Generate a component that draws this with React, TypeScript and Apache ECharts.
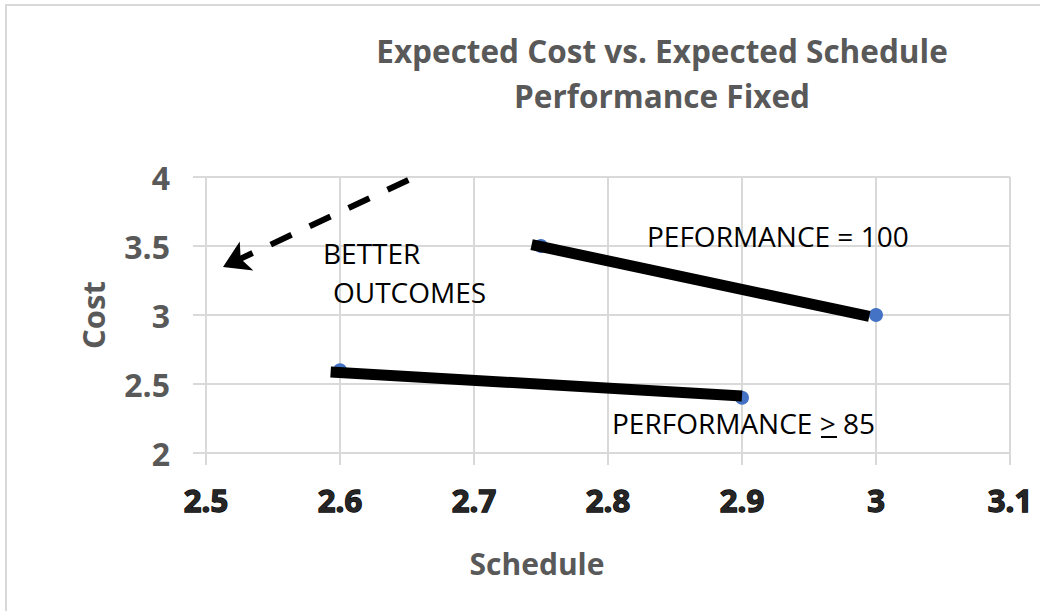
import React, { useEffect, useRef } from "react";
import * as echarts from "echarts";

const TITLE_LINES = ["Expected Cost vs. Expected Schedule", "Performance Fixed"];
const X_NAME = "Schedule";
const Y_NAME = "Cost";

// scatter points (schedule, cost)
const perf100Points: [number, number][] = [
  [2.75, 3.5],
  [3.0, 3.0],
];
const perf85Points: [number, number][] = [
  [2.6, 2.6],
  [2.9, 2.4],
];

// thick hand-drawn connector lines (data coordinates)
const perf100Line: [number, number][] = [
  [2.743, 3.51],
  [2.995, 2.99],
];
const perf85Line: [number, number][] = [
  [2.593, 2.587],
  [2.9, 2.413],
];

// dashed "better outcomes" arrow (from, to)
const arrowFrom: [number, number] = [2.651, 3.978];
const arrowTo: [number, number] = [2.5127, 3.348];

const X_MIN = 2.5;
const X_MAX = 3.1;
const X_STEP = 0.1;
const Y_MIN = 2;
const Y_MAX = 4;
const Y_STEP = 0.5;

const FONT = "'Open Sans', 'Noto Sans', sans-serif";
const GRAY = "#595959";

export default function App() {
  const ref = useRef<HTMLDivElement>(null);

  useEffect(() => {
    if (!ref.current) return;
    const chart = echarts.init(ref.current, undefined, { renderer: "svg" });
    const fmt = (v: number) => String(parseFloat(v.toFixed(2)));
    const annot = (text: string, x: number, y: number) => ({
      type: "text",
      x,
      y,
      z: 50,
      style: {
        text,
        fontFamily: FONT,
        fontSize: 28,
        fill: "#000",
        textVerticalAlign: "middle",
      },
    });
    chart.setOption({
      animation: false,
      backgroundColor: "#ffffff",
      textStyle: { fontFamily: FONT },
      title: {
        text: TITLE_LINES.join("\n"),
        left: 657,
        top: 23,
        textAlign: "center",
        textStyle: {
          fontFamily: FONT,
          fontSize: 31.5,
          fontWeight: "bold",
          color: GRAY,
          lineHeight: 45,
        },
      },
      grid: { left: 206, right: 30, top: 177, bottom: 158, containLabel: false },
      xAxis: {
        type: "value",
        min: X_MIN,
        max: X_MAX,
        interval: X_STEP,
        name: X_NAME,
        nameLocation: "middle",
        nameGap: 95,
        nameTextStyle: {
          fontFamily: FONT,
          fontSize: 30,
          fontWeight: "bold",
          color: GRAY,
          padding: [0, 142, 0, 0],
        },
        axisLine: { show: true, lineStyle: { color: "#D9D9D9", width: 2 } },
        axisTick: { show: true, length: 12, lineStyle: { color: "#D9D9D9", width: 2 } },
        splitLine: { show: true, lineStyle: { color: "#D9D9D9", width: 2 } },
        axisLabel: {
          formatter: fmt,
          margin: 31,
          fontFamily: FONT,
          fontSize: 31,
          fontWeight: "bold",
          color: "#262626",
          textBorderColor: "#000000",
          textBorderWidth: 1.3,
        },
      },
      yAxis: {
        type: "value",
        min: Y_MIN,
        max: Y_MAX,
        interval: Y_STEP,
        name: Y_NAME,
        nameLocation: "middle",
        nameGap: 98,
        nameTextStyle: { fontFamily: FONT, fontSize: 31, fontWeight: "bold", color: GRAY },
        axisLine: { show: true, lineStyle: { color: "#D9D9D9", width: 2 } },
        axisTick: { show: true, length: 13, lineStyle: { color: "#D9D9D9", width: 2 } },
        splitLine: { show: true, lineStyle: { color: "#D9D9D9", width: 2 } },
        axisLabel: {
          formatter: fmt,
          margin: 36,
          fontFamily: FONT,
          fontSize: 32,
          fontWeight: "bold",
          color: GRAY,
        },
      },
      series: [
        {
          name: "Performance = 100",
          type: "scatter",
          data: perf100Points,
          symbolSize: 14,
          itemStyle: { color: "#4472C4", opacity: 1 },
          z: 2,
        },
        {
          name: "Performance >= 85",
          type: "scatter",
          data: perf85Points,
          symbolSize: 14,
          itemStyle: { color: "#4472C4", opacity: 1 },
          z: 2,
        },
        {
          name: "line100",
          type: "line",
          data: perf100Line,
          showSymbol: false,
          symbol: "none",
          lineStyle: { color: "#000000", width: 11, cap: "butt" },
          z: 3,
        },
        {
          name: "line85",
          type: "line",
          data: perf85Line,
          showSymbol: false,
          symbol: "none",
          lineStyle: { color: "#000000", width: 11, cap: "butt" },
          z: 3,
        },
        {
          name: "arrow",
          type: "scatter",
          data: [],
          markLine: {
            silent: true,
            symbol: ["none", "arrow"],
            symbolSize: [24, 26],
            label: { show: false },
            lineStyle: { color: "#000000", width: 6, type: [23, 20] },
            data: [[{ coord: arrowFrom }, { coord: arrowTo }]],
          },
        },
      ],
      graphic: [
        {
          type: "rect",
          shape: { x: 6, y: 5, width: 1200, height: 800 },
          style: { fill: "none", stroke: "#D9D9D9", lineWidth: 2 },
          silent: true,
          z: -1,
        },
        annot("BETTER", 323, 253),
        annot("OUTCOMES", 333, 292),
        annot("PEFORMANCE = 100", 647, 236),
        annot("PERFORMANCE > 85", 612, 423),
        {
          type: "line",
          z: 50,
          shape: { x1: 821, y1: 437, x2: 837, y2: 437 },
          style: { stroke: "#000", lineWidth: 2 },
        },
      ],
    });
    return () => chart.dispose();
  }, []);

  return (
    <div style={{ position: "absolute", left: 0, top: 0 }}>
      <div ref={ref} style={{ width: 1040, height: 611 }} />
    </div>
  );
}
